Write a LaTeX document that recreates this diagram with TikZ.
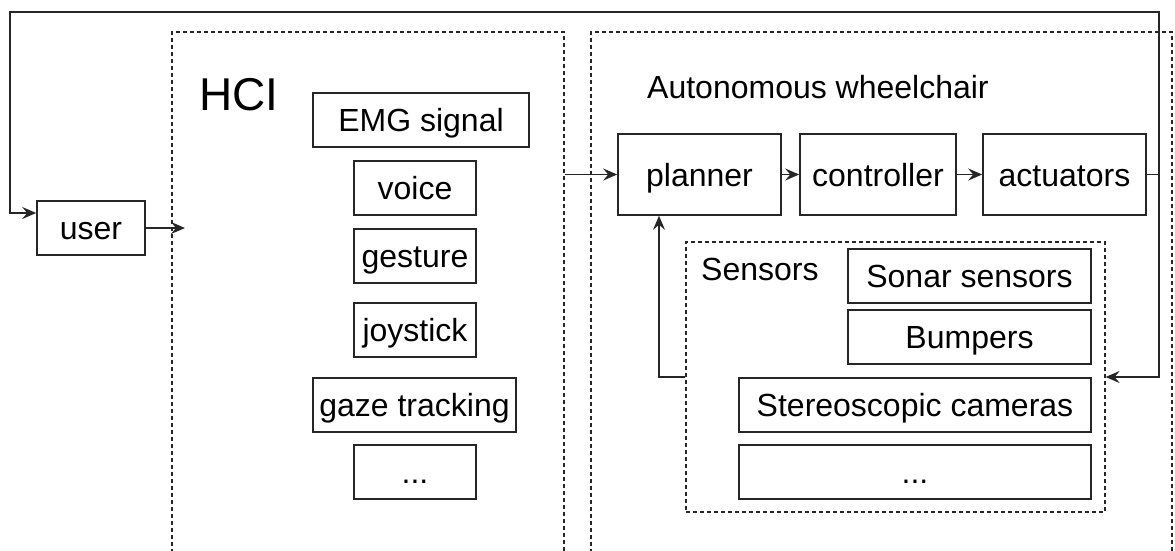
\documentclass[tikz,border=0pt]{standalone}
\usepackage{fontspec}
\setmainfont{Liberation Sans}
\usetikzlibrary{arrows.meta}
\begin{document}
\begin{tikzpicture}[x=1pt,y=-1pt,
  every node/.style={font=\fontsize{32}{38}\selectfont},
  blk/.style={draw=black!85, line width=1.6pt, inner sep=0pt, text height=23pt, text depth=0pt},
  dashbox/.style={draw=black!85, line width=1.2pt, dash pattern=on 4pt off 3pt, inner sep=0pt},
  arr/.style={draw=black!85, line width=1.5pt, -{Stealth[length=14pt,width=12pt,inset=5pt]}},
  lbl/.style={inner sep=0pt, anchor=base west}
]
\useasboundingbox (0,0) rectangle (1175,550);
\clip (0,0) rectangle (1175,550);
% containers
\node[dashbox, minimum width=392pt, minimum height=540pt] (hci) at (368,302) {};
\node[dashbox, minimum width=581pt, minimum height=540pt] (wc) at (881.5,302) {};
\node[dashbox, minimum width=419pt, minimum height=270pt] (sens) at (895.5,377) {};
% labels
\node[lbl, font=\fontsize{46}{50}\selectfont] (hcil) at (199,110) {HCI};
\node[lbl] (wcl) at (647,98) {Autonomous wheelchair};
\node[lbl] (sensl) at (701,280) {Sensors};
% user
\node[blk, minimum width=108pt, minimum height=54pt] (user) at (91,228) {user};
% HCI items
\node[blk, minimum width=216pt, minimum height=54pt] (emg) at (421,120) {EMG signal};
\node[blk, minimum width=122pt, minimum height=54pt] (voice) at (415,188) {voice};
\node[blk, minimum width=122pt, minimum height=54pt] (gest) at (415,256) {gesture};
\node[blk, minimum width=122pt, minimum height=54pt] (joy) at (415,330) {joystick};
\node[blk, minimum width=203pt, minimum height=54pt] (gaze) at (414.5,405) {gaze tracking};
\node[blk, minimum width=122pt, minimum height=54pt] (hdots) at (415,472) {...};
% wheelchair
\node[blk, minimum width=163pt, minimum height=81pt] (plan) at (699.5,174.5) {planner};
\node[blk, minimum width=156pt, minimum height=81pt] (ctrl) at (878,174.5) {controller};
\node[blk, minimum width=163pt, minimum height=81pt] (act) at (1064.5,174.5) {actuators};
% sensors
\node[blk, minimum width=243pt, minimum height=54pt] (sonar) at (969.5,276) {Sonar sensors};
\node[blk, minimum width=243pt, minimum height=54pt] (bump) at (969.5,337) {Bumpers};
\node[blk, minimum width=352pt, minimum height=54pt] (stereo) at (915,405) {Stereoscopic cameras};
\node[blk, minimum width=352pt, minimum height=54pt] (sdots) at (915,472) {...};
% connector helpers
\coordinate (tr) at (1159,12);
\coordinate (tl) at (10,12);
\coordinate (hciin) at (185,228);
% connectors
\draw[arr] (user.east) -- (hciin);
\draw[arr] (plan.west -| hci.east) -- (plan.west);
\draw[arr] (plan.east) -- (ctrl.west);
\draw[arr] (ctrl.east) -- (act.west);
\draw[arr] (act.east) -| (tr) -- (tl) |- ([yshift=15pt]user.west);
\draw[arr] (act.east) -- (tr |- act.east) |- (sens.east);
\draw[arr] (sens.west) -| ([xshift=-40.5pt]plan.south);
\end{tikzpicture}
\end{document}
